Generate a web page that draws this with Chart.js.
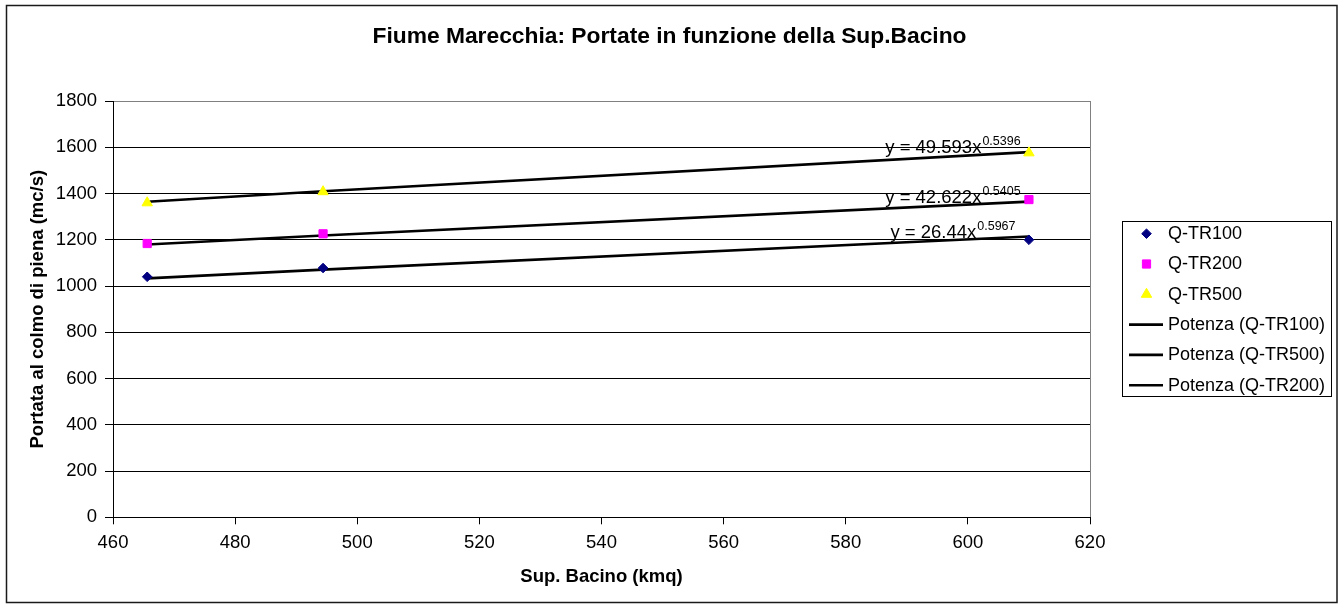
<!DOCTYPE html>
<html>
<head>
<meta charset="utf-8">
<title>Fiume Marecchia: Portate in funzione della Sup.Bacino</title>
<script src="https://cdn.jsdelivr.net/npm/chart.js@4.4.1/dist/chart.umd.min.js"></script>
<style>
  html, body { margin: 0; padding: 0; background: #fff; }
  canvas { display: block; }
</style>
</head>
<body>
<canvas id="c" width="1339" height="605"></canvas>
<script>
// Basin surface (kmq) of the three measuring sections
const areaKmq = [465.6, 494.4, 610];

// Peak discharge (mc/s) for each return period
const qTR100 = [1040, 1078, 1200];
const qTR200 = [1184, 1226, 1374];
const qTR500 = [1360, 1408, 1576];
const seriesNames = ['Q-TR100', 'Q-TR200', 'Q-TR500'];

// Power-law regressions y = a * x^b, one per series
const fitCoefA = [26.44, 42.622, 49.593];
const fitExpB = [0.5967, 0.5405, 0.5396];
const fitCoefText = ['26.44', '42.622', '49.593'];
const fitExpText = ['0.5967', '0.5405', '0.5396'];
// order in which the regression lines are listed
const trendOrder = [0, 2, 1];

// Axis ticks
const xTickLabels = [460, 480, 500, 520, 540, 560, 580, 600, 620];
const yTickLabels = [0, 200, 400, 600, 800, 1000, 1200, 1400, 1600, 1800];

const FONT = "'Liberation Sans', Arial, Helvetica, sans-serif";
Chart.defaults.font.family = FONT;
Chart.defaults.color = '#000';

const seriesValues = [qTR100, qTR200, qTR500];
const markerStyle = [
  { pointStyle: 'rectRot', radius: 4.8, color: '#000080' },
  { pointStyle: 'rect', radius: 5.8, color: '#FF00FF' },
  { pointStyle: 'triangle', radius: 6, color: '#FFFF00' }
];

const scatterSets = seriesValues.map((vals, i) => ({
  type: 'scatter',
  label: seriesNames[i],
  data: areaKmq.map((x, k) => ({ x: x, y: vals[k] })),
  pointStyle: markerStyle[i].pointStyle,
  pointRadius: markerStyle[i].radius,
  pointHoverRadius: markerStyle[i].radius,
  backgroundColor: markerStyle[i].color,
  borderColor: markerStyle[i].color,
  borderWidth: 1,
  order: 1
}));

const trendSets = trendOrder.map(i => ({
  type: 'line',
  label: 'Potenza (' + seriesNames[i] + ')',
  fitIndex: i,
  data: areaKmq.map(x => ({ x: x, y: fitCoefA[i] * Math.pow(x, fitExpB[i]) })),
  borderColor: '#000',
  borderWidth: 2.6,
  pointRadius: 0,
  pointHoverRadius: 0,
  tension: 0,
  fill: false,
  order: 2
}));

// white page with the chart frame and the grey plot-area outline
const framePlugin = {
  id: 'frame',
  beforeDraw(chart) {
    const ctx = chart.ctx;
    ctx.save();
    ctx.fillStyle = '#fff';
    ctx.fillRect(0, 0, chart.width, chart.height);
    ctx.strokeStyle = '#1a1a1a';
    ctx.lineWidth = 1.5;
    ctx.strokeRect(6.5, 5.5, chart.width - 8.5, chart.height - 8);
    const a = chart.chartArea;
    ctx.strokeStyle = '#808080';
    ctx.lineWidth = 1;
    ctx.strokeRect(Math.round(a.left) + 0.5, Math.round(a.top) + 0.5,
      Math.round(a.right - a.left), Math.round(a.bottom - a.top));
    ctx.restore();
  }
};

// regression equations written next to the end of each fitted line
const equationPlugin = {
  id: 'equations',
  afterDatasetsDraw(chart) {
    const ctx = chart.ctx;
    ctx.save();
    ctx.fillStyle = '#000';
    ctx.textBaseline = 'alphabetic';
    chart.data.datasets.forEach((ds, di) => {
      if (ds.fitIndex === undefined) return;
      const pts = chart.getDatasetMeta(di).data;
      const end = pts[pts.length - 1];
      const i = ds.fitIndex;
      const main = 'y = ' + fitCoefText[i] + 'x';
      const sup = fitExpText[i];
      ctx.font = '18.5px ' + FONT;
      const wMain = ctx.measureText(main).width;
      ctx.font = '12.5px ' + FONT;
      const wSup = ctx.measureText(sup).width;
      const total = wMain + 1 + wSup;
      const cx = end.x - 76;
      const x0 = cx - total / 2;
      const base = end.y + 1;
      ctx.textAlign = 'left';
      ctx.font = '18.5px ' + FONT;
      ctx.fillText(main, x0, base);
      ctx.font = '12.5px ' + FONT;
      ctx.fillText(sup, x0 + wMain + 1, base - 8);
    });
    ctx.restore();
  }
};

// boxed legend on the right of the plot
const legendPlugin = {
  id: 'boxLegend',
  afterDraw(chart) {
    const ctx = chart.ctx;
    const box = { x: 1122.5, y: 221.5, w: 209, h: 175 };
    const rowH = 30.3;
    const firstRow = 233.7;
    ctx.save();
    ctx.fillStyle = '#fff';
    ctx.fillRect(box.x, box.y, box.w, box.h);
    ctx.strokeStyle = '#000';
    ctx.lineWidth = 1;
    ctx.strokeRect(box.x, box.y, box.w, box.h);
    ctx.font = '18px ' + FONT;
    ctx.textBaseline = 'middle';
    ctx.textAlign = 'left';
    chart.data.datasets.forEach((ds, k) => {
      const y = firstRow + k * rowH;
      if (ds.type === 'scatter') {
        ctx.fillStyle = ds.backgroundColor;
        ctx.strokeStyle = ds.borderColor;
        ctx.lineWidth = 1;
        Chart.helpers.drawPoint(ctx, {
          pointStyle: ds.pointStyle, rotation: 0,
          radius: ds.pointRadius, borderWidth: 1
        }, 1146.5, y);
      } else {
        ctx.strokeStyle = ds.borderColor;
        ctx.lineWidth = 2.6;
        ctx.beginPath();
        ctx.moveTo(1129, y);
        ctx.lineTo(1163, y);
        ctx.stroke();
      }
      ctx.fillStyle = '#000';
      ctx.fillText(ds.label, 1168, y + 0.5);
    });
    ctx.restore();
  }
};

new Chart(document.getElementById('c'), {
  type: 'scatter',
  data: { datasets: scatterSets.concat(trendSets) },
  options: {
    responsive: false,
    animation: false,
    events: [],
    layout: { padding: { left: 8, right: 8, top: 8, bottom: 8 } },
    plugins: {
      legend: { display: false },
      tooltip: { enabled: false },
      title: {
        display: true,
        text: 'Fiume Marecchia: Portate in funzione della Sup.Bacino',
        color: '#000',
        font: { size: 22.8, weight: 'bold' },
        padding: { top: 15.5, bottom: 50.2 }
      }
    },
    scales: {
      x: {
        type: 'linear',
        min: xTickLabels[0],
        max: xTickLabels[xTickLabels.length - 1],
        afterBuildTicks(scale) { scale.ticks = xTickLabels.map(v => ({ value: v })); },
        afterFit(scale) { scale.height = 79.7; },
        ticks: { color: '#000', font: { size: 18.5 }, padding: 8, maxRotation: 0, autoSkip: false,
          callback: v => String(v) },
        grid: { drawOnChartArea: false, tickLength: 7, tickColor: '#000', tickWidth: 1 },
        border: { color: '#000', width: 1 },
        title: {
          display: true, text: 'Sup. Bacino (kmq)', color: '#000',
          font: { size: 18.5, weight: 'bold' }, padding: { top: 0, bottom: 9 }
        }
      },
      y: {
        type: 'linear',
        min: yTickLabels[0],
        max: yTickLabels[yTickLabels.length - 1],
        afterBuildTicks(scale) { scale.ticks = yTickLabels.map(v => ({ value: v })); },
        afterFit(scale) { scale.width = 105; },
        ticks: { color: '#000', font: { size: 18.5 }, padding: 8, autoSkip: false,
          callback: v => String(v) },
        grid: {
          color: c => (c.tick && c.tick.value === yTickLabels[yTickLabels.length - 1]) ? '#808080' : '#000',
          tickColor: '#000', tickLength: 8, lineWidth: 1
        },
        border: { color: '#000', width: 1 },
        title: {
          display: true, text: 'Portata al colmo di piena (mc/s)', color: '#000',
          font: { size: 18.5, weight: 'bold' }, padding: { top: 18.6, bottom: 0 }
        }
      },
      // empty right-hand band that holds the legend column
      legendBand: {
        axis: 'y',
        position: 'right',
        type: 'linear',
        afterFit(scale) { scale.width = 241; },
        ticks: { display: false },
        grid: { display: false, drawTicks: false },
        border: { display: false }
      }
    }
  },
  plugins: [framePlugin, equationPlugin, legendPlugin]
});
</script>
</body>
</html>
